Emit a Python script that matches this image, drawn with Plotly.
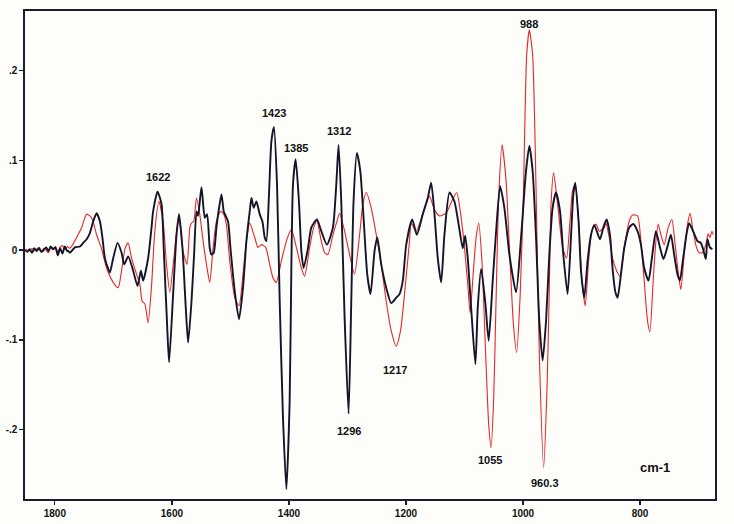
import plotly.graph_objects as go

# ---------------- data (wavenumber cm-1, absorbance) ----------------
black_wn = [1851, 1847, 1843, 1839, 1835, 1831, 1827, 1823, 1819, 1815, 1811, 1807, 1803, 1799, 1795, 1791, 1787, 1783, 1779,
            1777.1, 1774.2, 1765.7, 1757.1, 1751.5, 1745.7, 1740.1, 1734.4, 1728.6, 1723.0, 1719.1, 1714.5, 1708.8, 1705.9,
            1700.3, 1692.8, 1686.0, 1681.5, 1674.7, 1666.2, 1658.7, 1653.0, 1649.1, 1640.6, 1634.8, 1632.1, 1624.5, 1617.7,
            1613.8, 1608.2, 1604.8, 1597.9, 1592.1, 1587.7, 1581.9, 1576.3, 1572.3, 1566.5, 1562.1, 1558.0, 1555.3, 1549.5,
            1543.8, 1539.9, 1535.3, 1532.4, 1528.5, 1523.9, 1519.4, 1515.3, 1511.4, 1508.0, 1504.1, 1499.5, 1492.6, 1485.3,
            1478.5, 1472.7, 1467.0, 1464.1, 1460.2, 1455.6, 1450.0, 1445.4, 1441.4, 1438.5, 1434.1, 1430.0, 1425.6, 1420.4,
            1415.8, 1410.2, 1404.4, 1398.8, 1395.9, 1393.1, 1388.5, 1382.9, 1378.8, 1374.9, 1367.5, 1361.8, 1352.2, 1344.7,
            1335.1, 1324.9, 1319.1, 1315.2, 1310.6, 1304.9, 1298.1, 1293.5, 1289.6, 1283.9, 1278.1, 1272.5, 1266.2, 1260.6,
            1253.7, 1249.1, 1242.3, 1233.8, 1225.2, 1216.7, 1211.1, 1205.4, 1199.6, 1189.4, 1181.5, 1171.3, 1162.8, 1157.0,
            1151.3, 1145.7, 1139.9, 1134.3, 1125.7, 1117.2, 1109.9, 1103.0, 1098.9, 1094.5, 1088.7, 1081.4, 1077.4, 1071.6,
            1064.3, 1058.7, 1051.8, 1046.0, 1039.2, 1031.9, 1023.3, 1011.9, 1003.4, 994.9, 989.2, 983.6, 977.8, 972.2, 966.5,
            960.7, 955.1, 949.5, 943.7, 936.8, 931.2, 923.9, 918.1, 914.1, 910.7, 905.1, 901.0, 895.4, 889.7, 883.9, 878.3,
            868.6, 862.9, 857.3, 851.5, 847.1, 842.5, 838.5, 832.7, 827.1, 818.6, 811.7, 804.4, 798.6, 793.0, 785.6, 779.8,
            773.0, 765.7, 760.0, 753.2, 747.4, 741.8, 736.1, 732.0, 726.4, 720.8, 716.2, 709.4, 702.0, 696.2, 692.3, 687.7,
            684.9, 680.8, 676.4]
black_abs = [0.000, -0.002, 0.001, -0.003, 0.002, -0.001, 0.002, -0.002, 0.000, 0.003, -0.001, 0.004, 0.001, 0.003, -0.006, 0.002, -0.004, 0.004, -0.001,
             -0.001, -0.003, 0.003, 0.004, 0.008, 0.012, 0.019, 0.032, 0.041, 0.032, 0.016, -0.009, -0.021, -0.025,
             -0.009, 0.008, -0.003, -0.016, -0.007, -0.023, -0.040, -0.023, -0.034, -0.009, 0.025, 0.043, 0.065, 0.051,
             -0.001, -0.083, -0.125, -0.049, 0.017, 0.040, 0.002, -0.064, -0.103, -0.057, -0.005, 0.043, 0.038, 0.070,
             0.036, 0.040, 0.002, -0.005, -0.003, 0.025, 0.047, 0.062, 0.043, 0.038, 0.032, -0.001, -0.046, -0.077,
             -0.042, 0.010, 0.043, 0.058, 0.047, 0.054, 0.040, 0.032, 0.014, 0.010, 0.062, 0.121, 0.137, 0.073,
             -0.057, -0.186, -0.266, -0.168, -0.020, 0.073, 0.101, 0.054, -0.001, -0.020, 0.002, 0.025, 0.034, 0.021,
             0.006, 0.025, 0.073, 0.117, 0.054, -0.075, -0.182, -0.057, 0.054, 0.108, 0.088, 0.036, -0.027, -0.049,
             -0.001, 0.014, -0.016, -0.042, -0.059, -0.053, -0.049, -0.034, 0.006, 0.034, 0.017, 0.040, 0.058, 0.075,
             0.040, -0.009, -0.036, 0.017, 0.064, 0.054, 0.028, 0.002, 0.016, -0.009, -0.064, -0.127, -0.064, -0.021,
             -0.060, -0.101, -0.034, 0.021, 0.071, 0.047, -0.005, -0.047, 0.014, 0.088, 0.116, 0.088, 0.014, -0.079, -0.123,
             -0.079, -0.005, 0.047, 0.064, 0.043, -0.005, -0.049, 0.014, 0.062, 0.075, 0.032, -0.023, -0.053, -0.012, 0.017, 0.028,
             0.012, 0.025, 0.034, 0.017, -0.020, -0.046, -0.053, -0.027, 0.002, 0.025, 0.029, 0.021, 0.006, -0.020, -0.034, -0.009,
             0.021, 0.002, -0.010, 0.004, 0.017, -0.005, -0.027, -0.034, -0.009, 0.017, 0.030, 0.021, 0.010, 0.008, 0.001, -0.010,
             0.012, 0.003, 0.001]

red_wn = [1851, 1847, 1843, 1839, 1835, 1831, 1827, 1823, 1819, 1815, 1811, 1807, 1803, 1799, 1795, 1791, 1787, 1783, 1779, 1775,
          1771.3, 1762.8, 1754.2, 1745.7, 1737.2, 1728.6, 1720.1, 1711.6, 1700.3, 1691.8, 1686.0, 1680.3, 1674.7, 1668.9,
          1660.4, 1654.8, 1650.8, 1646.2, 1640.6, 1634.8, 1629.2, 1622.3, 1615.0, 1609.2, 1603.6, 1596.7, 1591.1, 1587.7,
          1581.9, 1578.0, 1574.0, 1569.4, 1566.5, 1562.6, 1558.0, 1552.4, 1546.7, 1540.9, 1535.3, 1529.7, 1523.9, 1517.0,
          1511.4, 1506.8, 1501.2, 1492.6, 1485.3, 1478.5, 1472.7, 1467.0, 1458.5, 1452.9, 1447.1, 1439.7, 1432.9, 1427.3,
          1421.5, 1412.9, 1404.4, 1395.9, 1387.3, 1378.8, 1373.2, 1364.6, 1357.8, 1352.2, 1344.7, 1339.0, 1333.4, 1324.9,
          1318.0, 1313.5, 1304.9, 1296.4, 1287.9, 1279.3, 1273.7, 1267.9, 1259.4, 1250.8, 1242.3, 1233.8, 1225.2, 1216.7,
          1209.4, 1202.5, 1194.0, 1191.1, 1182.6, 1171.3, 1159.9, 1151.3, 1142.8, 1131.4, 1122.8, 1113.3, 1105.8, 1100.1,
          1094.5, 1090.4, 1084.8, 1080.2, 1075.7, 1069.9, 1064.3, 1058.7, 1054.6, 1050.1, 1046.0, 1041.6, 1035.8, 1029.0,
          1023.3, 1016.5, 1010.9, 1005.1, 999.5, 993.8, 989.2, 983.6, 977.8, 972.2, 964.8, 959.0, 955.1, 952.2, 947.8,
          940.9, 932.4, 925.6, 919.8, 915.3, 910.7, 905.1, 899.3, 893.7, 888.0, 882.2, 875.4, 869.8, 861.2, 858.3, 852.7,
          847.1, 840.2, 834.4, 827.1, 818.6, 812.9, 804.4, 798.6, 793.0, 787.3, 783.2, 777.6, 773.0, 769.1, 764.5, 758.8,
          752.0, 745.7, 740.1, 734.4, 730.3, 724.7, 719.1, 714.5, 709.4, 703.7, 699.1, 693.5, 687.7, 683.8, 680.3, 677.4,
          674.7]
red_abs = [0.001, 0.000, -0.001, 0.002, -0.001, 0.001, 0.003, -0.002, 0.002, 0.000, -0.003, 0.003, 0.000, 0.004, -0.002, 0.003, 0.005, 0.001, 0.004, 0.002,
           0.004, 0.014, 0.025, 0.040, 0.036, 0.017, 0.001, -0.020, -0.036, -0.042, -0.023, 0.001, 0.008, -0.009,
           -0.027, -0.038, -0.057, -0.060, -0.081, -0.040, 0.021, 0.054, 0.032, -0.016, -0.047, -0.009, 0.025, 0.034,
           0.002, -0.009, -0.016, 0.025, 0.030, 0.032, 0.058, 0.040, 0.010, -0.016, -0.036, 0.002, 0.032, 0.043,
           0.040, 0.028, -0.012, -0.053, -0.062, -0.027, 0.010, 0.030, 0.014, 0.003, 0.006, 0.003, -0.016, -0.031,
           -0.036, -0.012, 0.010, 0.023, 0.003, -0.020, -0.029, 0.003, 0.025, 0.032, 0.010, -0.003, -0.005, 0.017,
           0.032, 0.041, 0.021, -0.005, -0.027, 0.017, 0.051, 0.064, 0.047, 0.017, -0.016, -0.057, -0.090, -0.107,
           -0.090, -0.049, 0.010, 0.030, 0.021, 0.040, 0.060, 0.045, 0.038, 0.041, 0.053, 0.064, 0.036, 0.003,
           -0.038, -0.070, -0.023, 0.014, 0.030, -0.016, -0.109, -0.194, -0.220, -0.164, -0.053, 0.058, 0.117, 0.077,
           0.003, -0.082, -0.114, -0.053, 0.058, 0.217, 0.245, 0.217, 0.069, -0.116, -0.242, -0.153, -0.042, 0.051, 0.086,
           0.051, 0.003, -0.009, 0.032, 0.066, 0.073, 0.032, -0.034, -0.062, -0.012, 0.021, 0.029, 0.021, 0.025, 0.030, 0.014,
           -0.009, -0.023, -0.029, 0.003, 0.032, 0.039, 0.038, 0.010, -0.034, -0.079, -0.091, -0.034, 0.010, 0.029, 0.017, 0.006,
           0.025, 0.034, 0.006, -0.027, -0.044, -0.005, 0.028, 0.041, 0.021, 0.003, -0.003, -0.003, 0.006, 0.018, 0.014, 0.021,
           0.017]

# peak labels
label_text = ["1622", "1423", "1385", "1312", "1296", "1217", "1055", "988", "960.3", "cm-1"]
label_wn = [1624.5, 1425.6, 1388.5, 1314.6, 1297.6, 1219.6, 1056.3, 990.4, 962.4, 774.7]
label_abs = [0.081, 0.153, 0.114, 0.132, -0.201, -0.133, -0.234, 0.252, -0.259, -0.242]

x_ticks = [1800, 1600, 1400, 1200, 1000, 800]
y_ticks = [-0.2, -0.1, 0, 0.1, 0.2]
y_ticktext = ["-.2", "-.1", "0", ".1", ".2"]

# ---------------- figure ----------------
fig = go.Figure()
fig.add_trace(go.Scatter(x=red_wn, y=red_abs, mode="lines",
                         line=dict(color="#e3262b", width=1.1, shape="spline", smoothing=0.6),
                         showlegend=False, hoverinfo="skip"))
fig.add_trace(go.Scatter(x=black_wn, y=black_abs, mode="lines",
                         line=dict(color="#14142a", width=1.9, shape="spline", smoothing=0.6),
                         showlegend=False, hoverinfo="skip"))

for t, xw, ya in zip(label_text, label_wn, label_abs):
    big = (t == "cm-1")
    fig.add_annotation(x=xw, y=ya, text=t, showarrow=False,
                       font=dict(family="Liberation Sans, Arial, sans-serif",
                                 size=13 if big else 11, color="#111111", weight="bold"))

axis_line = "#1c1c30"
tick_font = dict(family="Liberation Sans, Arial, sans-serif", size=10, color="#111111", weight="bold")
fig.update_layout(
    width=734, height=524,
    margin=dict(l=25, r=19, t=11, b=25),
    paper_bgcolor="#fdfdf9",
    plot_bgcolor="#fdfdf9",
    showlegend=False,
    xaxis=dict(range=[1851, 672], tickvals=x_ticks, ticktext=[str(v) for v in x_ticks],
               showgrid=False, zeroline=False, showline=True, mirror=True, automargin=False,
               linecolor=axis_line, linewidth=1.6, ticks="outside", ticklen=4,
               tickcolor=axis_line, tickwidth=1.2, tickfont=tick_font),
    yaxis=dict(range=[-0.277, 0.266], tickvals=y_ticks, ticktext=y_ticktext,
               showgrid=False, zeroline=False, showline=True, mirror=True, automargin=False,
               linecolor=axis_line, linewidth=1.6, ticks="outside", ticklen=4,
               tickcolor=axis_line, tickwidth=1.2, tickfont=tick_font),
)

# remove the browser's default 8px body margin so the figure fills the window exactly
fig.write_html("out.html",
               config={"displayModeBar": False, "staticPlot": True},
               post_script="document.body.style.margin='0';document.body.style.background='#fdfdf9';")
